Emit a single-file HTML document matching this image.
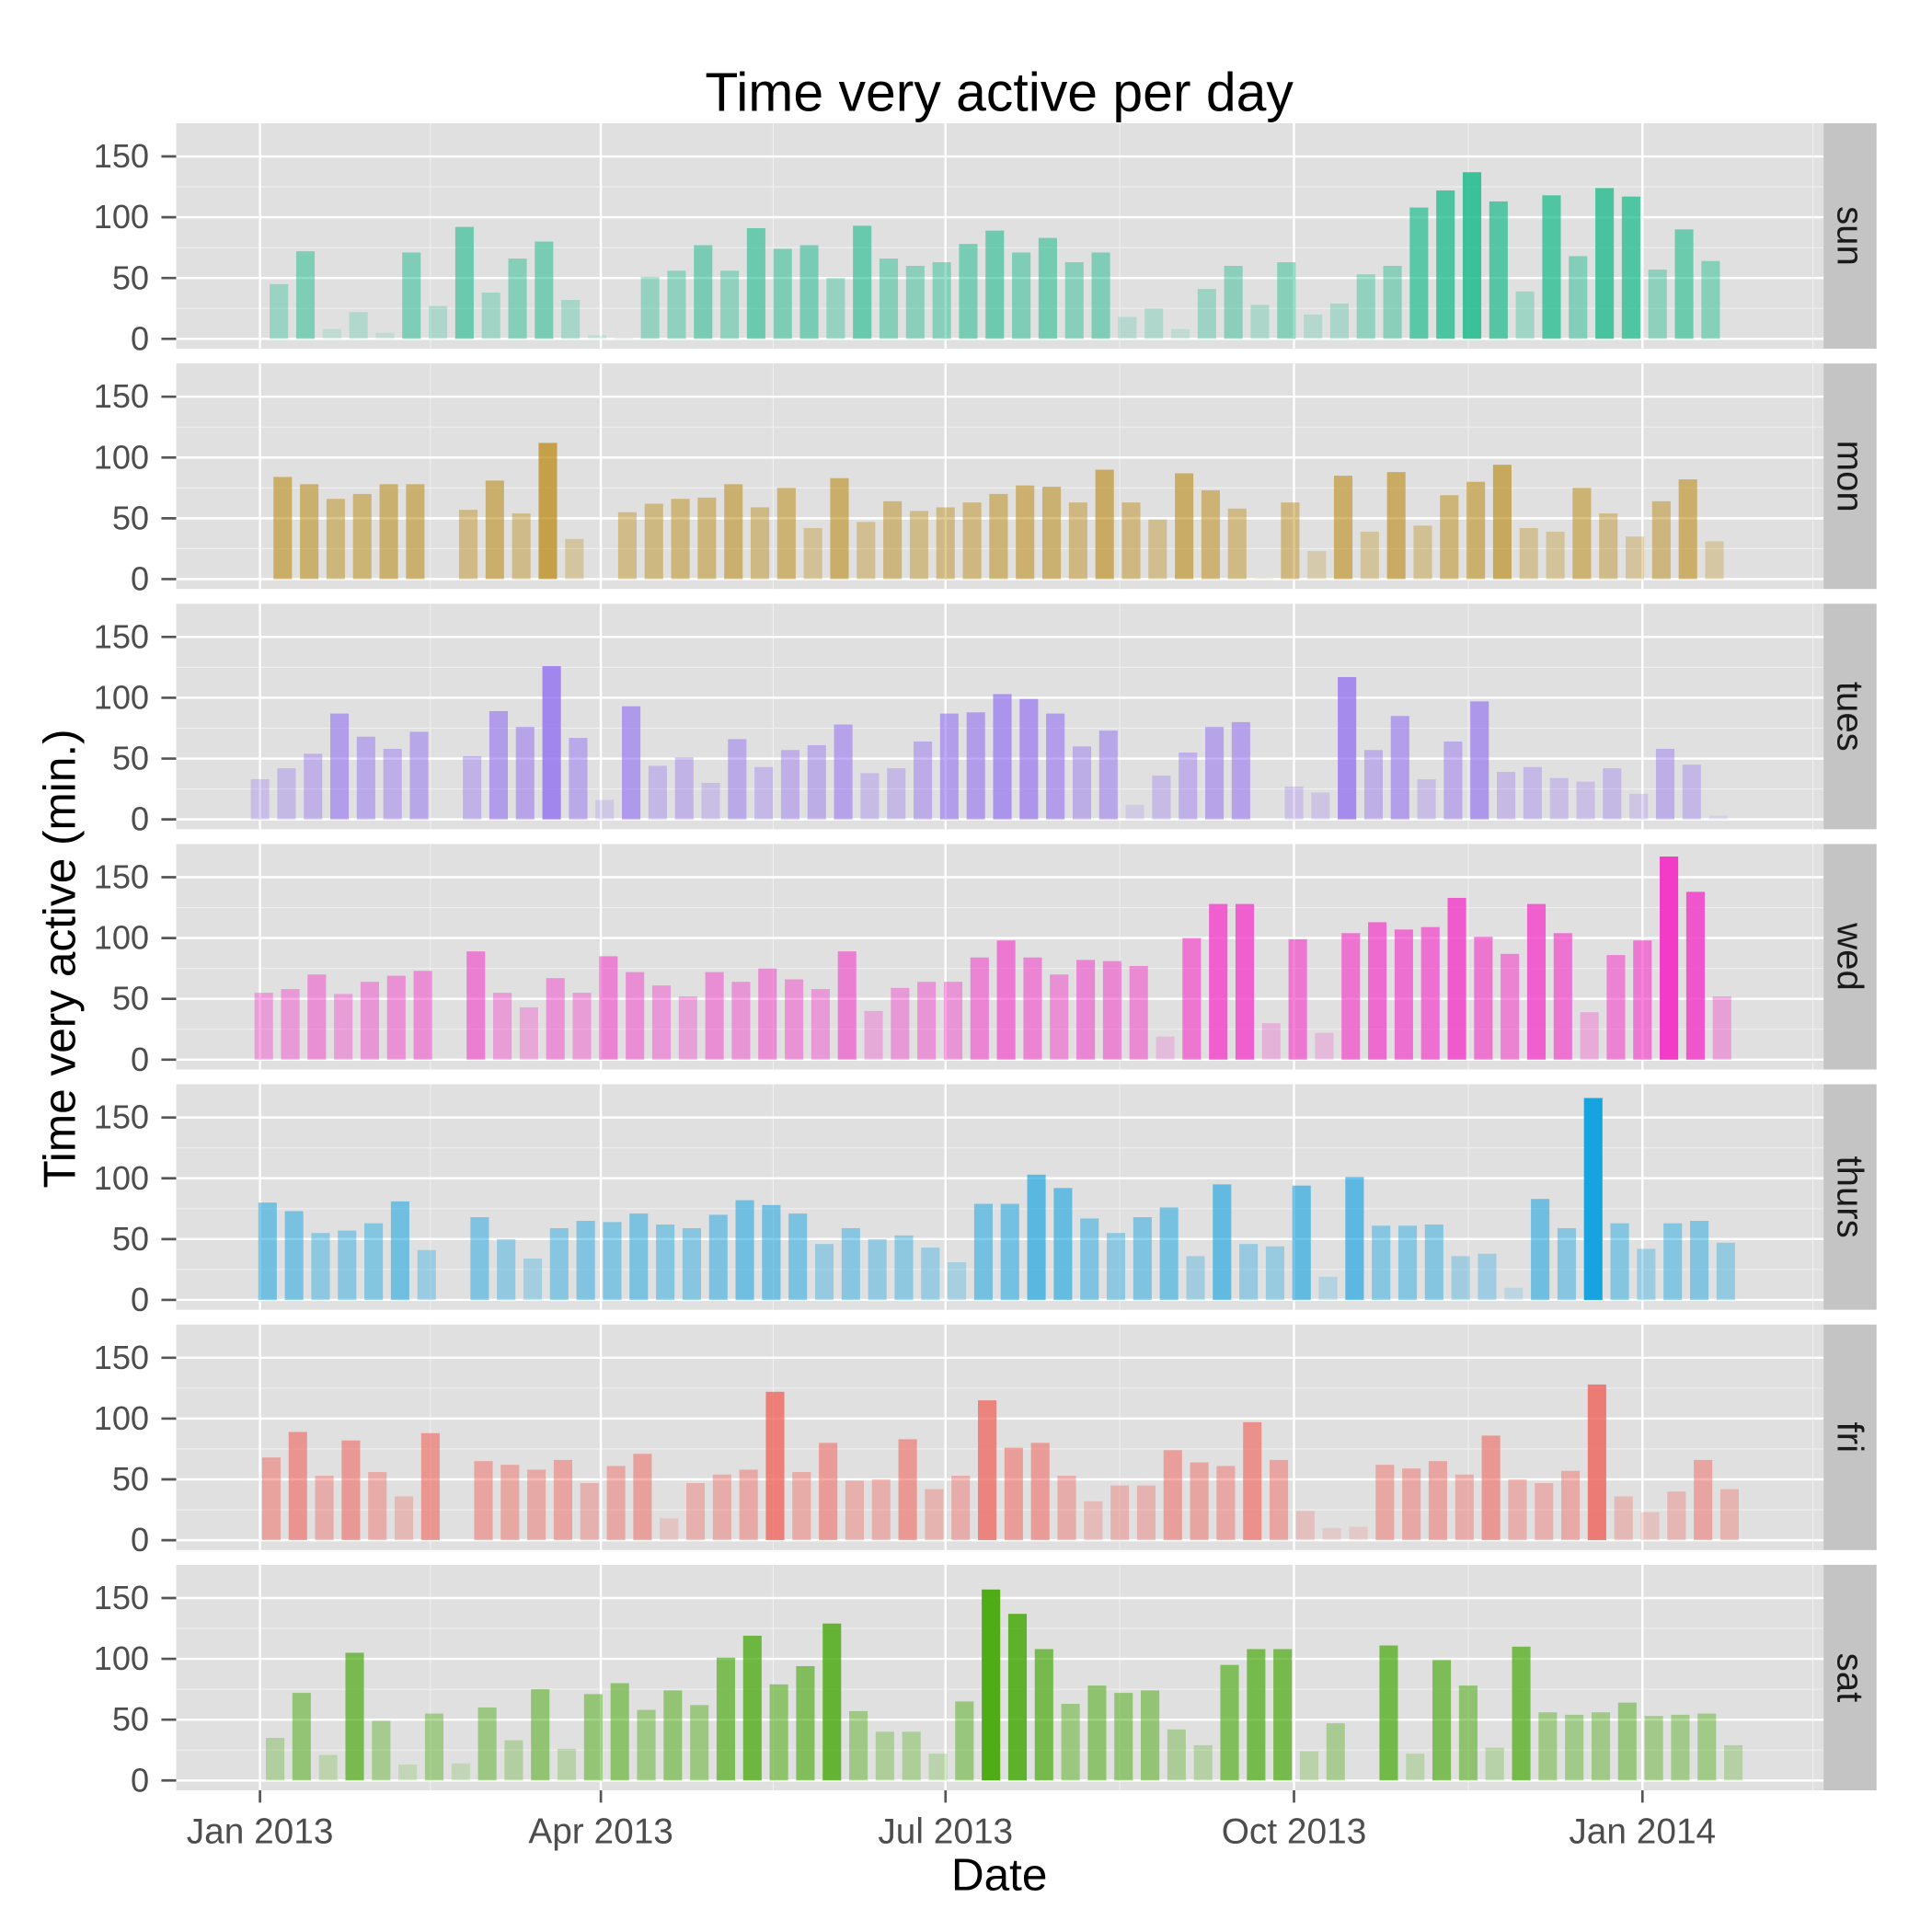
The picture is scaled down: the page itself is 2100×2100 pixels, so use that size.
<!DOCTYPE html>
<html><head><meta charset="utf-8">
<style>
html,body{margin:0;padding:0;background:#fff;}
svg{display:block;font-family:"Liberation Sans",Arial,sans-serif;}
</style></head>
<body>
<svg id="chart" width="2100" height="2100" viewBox="0 0 1568 1568" xmlns="http://www.w3.org/2000/svg">
<text x="811" y="90" font-size="44" text-anchor="middle" fill="#000">Time very active per day</text>
<text transform="translate(61,778) rotate(-90)" font-size="37" text-anchor="middle" fill="#000">Time very active (min.)</text>
<text x="811" y="1534" font-size="37" text-anchor="middle" fill="#000">Date</text>
<g id="panels"></g>
</svg>
<script>
const facets = ["sun","mon","tues","wed","thurs","fri","sat"];
const facetColors = ["#1dbb8b","#b8860b","#8f6cf0","#f23cc8","#15a3e0","#f06058","#46a80a"];
const startOffsets = [5,6,0,1,2,3,4];
const yTicks = [0,50,100,150];
const xTickLabels = ["Jan 2013","Apr 2013","Jul 2013","Oct 2013","Jan 2014"];
const xTickDays = [0,90,181,273,365];
const sunVals = [45,72,8,22,5,71,27,92,38,66,80,32,3,1,51,56,77,56,91,74,77,50,93,66,60,63,78,89,71,83,63,71,18,25,8,41,60,28,63,20,29,53,60,108,122,137,113,39,118,68,124,117,57,90,64];
const monVals = [84,78,66,70,78,78,null,57,81,54,112,33,null,55,62,66,67,78,59,75,42,83,47,64,56,59,63,70,77,76,63,90,63,49,87,73,58,1,63,23,85,39,88,44,69,80,94,42,39,75,54,35,64,82,31];
const tuesVals = [33,42,54,87,68,58,72,null,52,89,76,126,67,16,93,44,51,30,66,43,57,61,78,38,42,64,87,88,103,99,87,60,73,12,36,55,76,80,null,27,22,117,57,85,33,64,97,39,43,34,31,42,21,58,45,3];
const wedVals = [55,58,70,54,64,69,73,null,89,55,43,67,55,85,72,61,52,72,64,75,66,58,89,40,59,64,64,84,98,84,70,82,81,77,19,100,128,128,30,99,22,104,113,107,109,133,101,87,128,104,39,86,98,167,138,52];
const thursVals = [80,73,55,57,63,81,41,null,68,50,34,59,65,64,71,62,59,70,82,78,71,46,59,50,53,43,31,79,79,103,92,67,55,68,76,36,95,46,44,94,19,101,61,61,62,36,38,10,83,59,166,63,42,63,65,47];
const friVals = [68,89,53,82,56,36,88,null,65,62,58,66,47,61,71,18,47,54,58,122,56,80,49,50,83,42,53,115,76,80,53,32,45,45,74,64,61,97,66,24,10,11,62,59,65,54,86,50,47,57,128,36,23,40,66,42];
const satVals = [35,72,21,105,49,13,55,14,60,33,75,26,71,80,58,74,62,101,119,79,94,129,57,40,40,22,65,157,137,108,63,78,72,74,42,29,95,108,108,24,47,null,111,22,99,78,27,110,56,54,56,64,53,54,55,29];
const seriesVals = [sunVals,monVals,tuesVals,wedVals,thursVals,friVals,satVals];

const NS="http://www.w3.org/2000/svg";
const g=document.getElementById('panels');
const PL=143, PR=1480, SW=43, PH=183, GAP=12, TOP=100;
const x0=211, pxPerDay=1122/365, barW=15;
function xScale(day){return x0+day*pxPerDay;}
function mk(tag,attrs,parent){const e=document.createElementNS(NS,tag);for(const k in attrs)e.setAttribute(k,attrs[k]);parent.appendChild(e);return e;}
const vmax=167;
facets.forEach((f,fi)=>{
  const top=TOP+fi*(PH+GAP);
  const yScale=v=>top+175-v*0.987;
  const pg=mk('g',{},g);
  
  
  const bg=mk('rect',{x:PL,y:top,width:PR-PL,height:PH,fill:'#e0e0e0'},pg);
  
  
  [25,75,125].forEach(v=>{mk('line',{x1:PL,x2:PR,y1:yScale(v),y2:yScale(v),stroke:'#f0f0f0','stroke-width':0.8},pg);});
  const minorDays=[-46,45,135.5,227,319,410];
  minorDays.forEach(d=>{const x=xScale(d);if(x>PL&&x<PR)mk('line',{x1:x,x2:x,y1:top,y2:top+PH,stroke:'#f0f0f0','stroke-width':0.8},pg);});
  yTicks.forEach(v=>{mk('line',{x1:PL,x2:PR,y1:yScale(v),y2:yScale(v),stroke:'#fff','stroke-width':1.8},pg);});
  xTickDays.forEach(d=>{const x=xScale(d);mk('line',{x1:x,x2:x,y1:top,y2:top+PH,stroke:'#fff','stroke-width':1.8},pg);});
  const vals=seriesVals[fi];
  vals.forEach((v,i)=>{
    if(v===null)return;
    const day=startOffsets[fi]+7*i;
    const cx=xScale(day);
    const r=mk('rect',{x:cx-barW/2,y:yScale(v),width:barW,height:Math.max(0,yScale(0)-yScale(v)),fill:facetColors[fi],'fill-opacity':(0.12+0.88*v/vmax).toFixed(3)},pg);
    
    
  });
  yTicks.forEach(v=>{
    const y=yScale(v);
    mk('line',{x1:131,x2:143,y1:y,y2:y,stroke:'#555','stroke-width':2},pg);
    const t=mk('text',{x:121,y:y+9,'font-size':27,'text-anchor':'end',fill:'#4d4d4d'},pg);
    t.textContent=v;
    
    
  });
  const s=mk('rect',{x:PR,y:top,width:SW,height:PH,fill:'#c4c4c4'},pg);
  
  
  const st=mk('text',{transform:`translate(${PR+SW/2-10},${top+PH/2}) rotate(90)`,'font-size':30,'text-anchor':'middle',fill:'#1a1a1a'},pg);
  st.textContent=f;
  
  
});
const bottom=TOP+6*(PH+GAP)+PH;
xTickDays.forEach((d,i)=>{
  const x=xScale(d);
  mk('line',{x1:x,x2:x,y1:bottom,y2:bottom+10,stroke:'#555','stroke-width':2},g);
  const t=mk('text',{x:x,y:bottom+43,'font-size':29,'text-anchor':'middle',fill:'#4d4d4d'},g);
  t.textContent=xTickLabels[i];
  
  
});
</script>
</body></html>
